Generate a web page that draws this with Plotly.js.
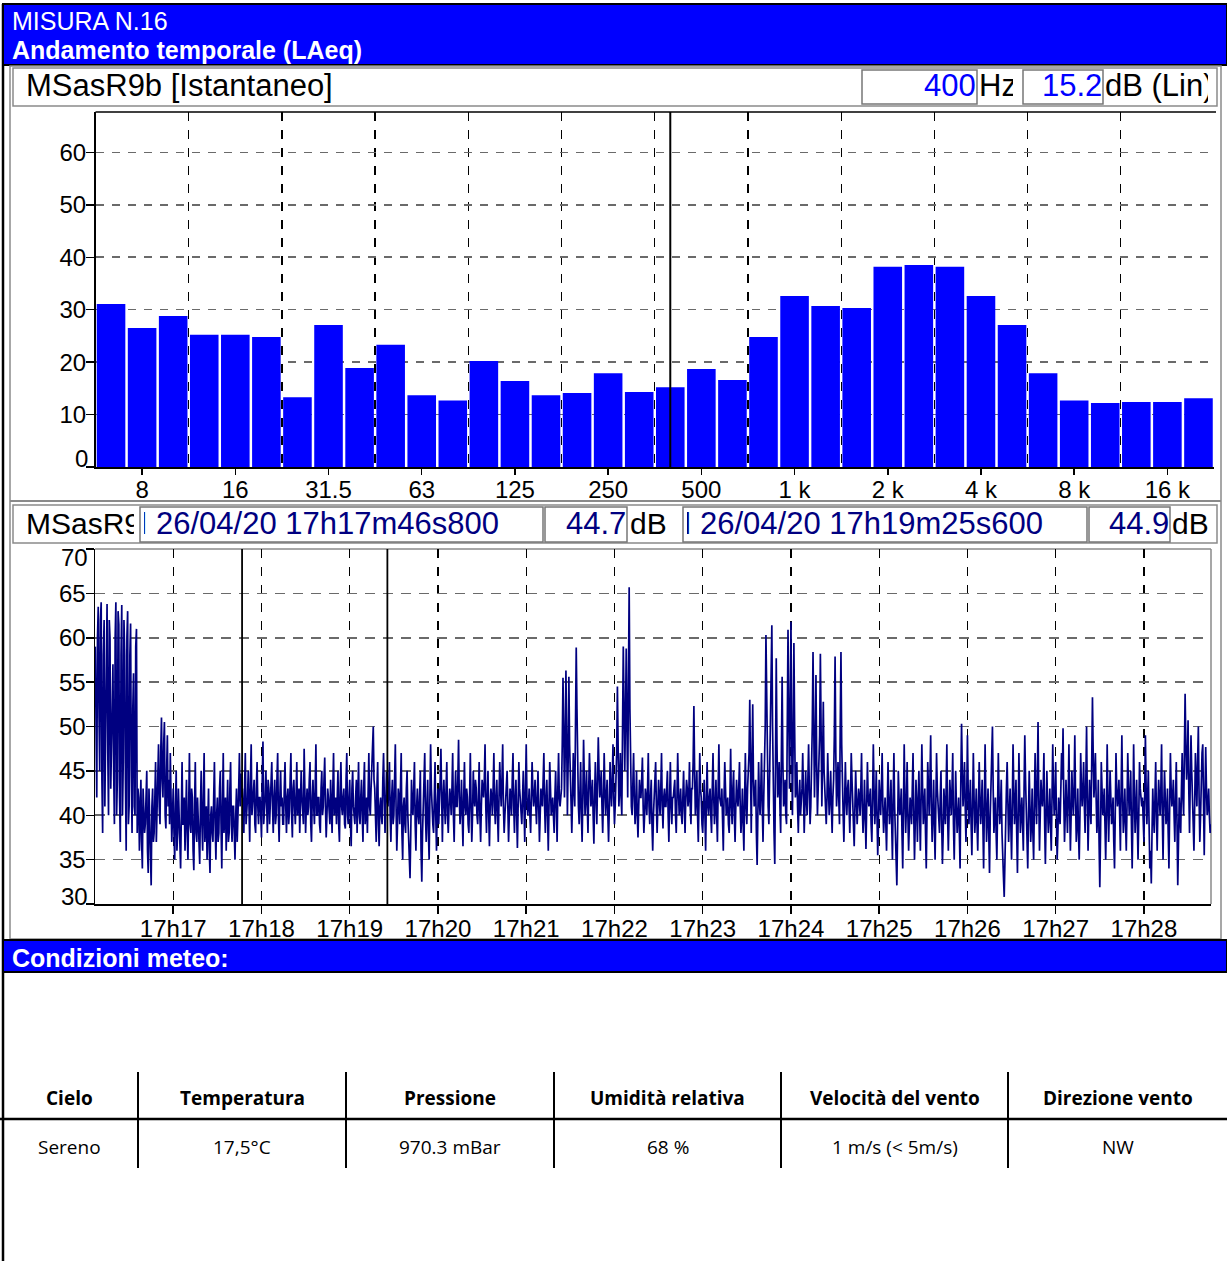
<!DOCTYPE html>
<html><head><meta charset="utf-8">
<script src="https://cdn.plot.ly/plotly-3.0.1.min.js"></script>
<style>html,body{margin:0;padding:0;background:#fff}#chart{width:1227px;height:1261px}</style>
</head><body><div id="chart"></div>
<script>
// ---------- Spectrum (1/3 octave, instantaneous) ----------
const bandLabels = ['6.3','8','10','12.5','16','20','25','31.5','40','50','63','80','100','125','160','200','250','315','400','500','630','800','1 k','1.25 k','1.6 k','2 k','2.5 k','3.15 k','4 k','5 k','6.3 k','8 k','10 k','12.5 k','16 k','20 k'];
const bandLevels = [31.1,26.5,28.8,25.2,25.2,24.8,13.3,27.1,18.9,23.3,13.7,12.7,20.2,16.4,13.7,14.1,17.9,14.3,15.2,18.7,16.6,24.8,32.6,30.7,30.3,38.2,38.5,38.2,32.6,27.1,17.9,12.7,12.2,12.4,12.4,13.1];
const spectrumTickLabels = ['8','16','31.5','63','125','250','500','1 k','2 k','4 k','8 k','16 k'];
const spectrumYTicks = [0,10,20,30,40,50,60];
const cursorBand = '400';
const cursorBandLevel = '15.2';

// ---------- Time history LAeq ----------
const historyStart = '2020-04-26T17:16:07Z';
const historyStepSeconds = 1;
// levels read on each whole second
const historyLevels = [
59,42,63.5,45,64,38,62,50,63.8,40,60,47,57,39,64,44,61.5,37,63.7,46,
58,36,63,41,61.6,38,56,40,61,43,36,44,34,41,39,45,33.5,40,32.1,43,
38,46,40,48,39,51,42,50.5,38.5,49,44,47,37,43,35,45,38,41,34,46,
39,36,44,35,47,38,42,33.8,46,37,40,34.5,45,36,47,39,35,43,33.5,41,
37,46,35,42,38,45,34,47,40,36,44,38,46,37,41,35,43,39,47,44.7,
43,38,47,40,45,37,48,41,44,38,46,39,42,37.5,48.3,40,45,38,43,41,
46,38,44,40,47,37,45,42,39,46,38,43,40.5,47,37.5,44,39,46,41,38,
45,40,47.5,38,43,41,46,37,44,39,48,40,42,38,45,41,46.5,37.5,43,40,
44,38,47,41,39,45,37,46,40,43,38.5,47,39,44,36.5,45,40,42,38,46,
39,44,37,46,41,38,47,40,45,50,43,37,46,36.5,42,39,47,38,44.9,41,
46,37,44,40,48,36,43,39,47,35,42,38,45,37,32.9,44,40,46,36,43,
39,45,32.5,41,47,37,44,35,48,40,38,46,36,43,41,47.5,37,44,39,46,
38,43,40,47,37,45,41,48.5,39,44,36.5,46,40,42,38,47,37,45,41,43,
39,46,37,44,42,48,38,45,36.5,43,40,47,39,44,37,46,41,48,38,42,
45,37,43,40,47,38,44,36.3,46,41,39,45,37,48,40,43,38,46,41,44,
39,45,37,43,41,47,38,44,36,46,40,42,38,45,37,47,41,43,55.5,42,
56.3,40,55.6,44,38,47,41,58.9,43,39,46,37,48.5,40,45,38,47,41,44,36.8,
46,39,48.8,42,45,38,47,40,44,37,46,41,48,39,43,54.5,41,47,40,59,
45,58.8,42,65.7,44,40,47,39,45,37.5,44,42,46.5,38,43,40,47,39,44,36,
42,46,38,44,40,47,38.5,43,41,45,37,46,39,42,44,38,47,40,43,39,
45,38,44,41,46,39,43,52.3,40,45,37,47,42,38,44,36,46,40,43,38,
47,39,44,37,48,41,43,36,46,40,42,38,47.5,39,45,37,44,41,46,38,
43,36,47,39,45,53,38,52.5,41,44,34.4,46,40,47,37,45,60.3,43,39,48,
61.4,40,34.5,57.7,42,46,38,55.6,41,44,39,60.9,43,61.8,40,59.4,42,46,38,44,
41,47,38,45,40,48,39,44,58.4,42,55.8,40,46,58.2,41,52.8,43,39,47,40,
45,38,44,57.9,41,46,39,58.4,42,37,46,40,44,38,47,41,36.5,45,39,43,
40,47,38,44,36.2,46,41,43,37,48,39,45,35.5,44,40,47,38,42,36,46,
39,44,35,47,37,32.1,45,40,43,34,48,38,46,36,42,39,47,35,44,37,
45,36,48,39,43,34,46,40,49,37,44,35,47,41,38,45,34.5,43,39,48,
36,44,40,47,35,45,38,42,34,50.3,41,46,37,49,39,44,35.5,47,38,43,
36,46,39,44,34,48,37,43,33.5,45,50,38,42,35,47,39,44,33,30.8,41,
46,37,43,35,48,39,44,33.5,47,38,42,36,49,40,34,45,37,43,35,47,
39,50.5,36,44,41,47,34.5,45,38,43,36,48,40,46,35,42,39,47,49.8,37,
44,38,48,36,45,40,49,37,43,35,47,41,46,38,50,36,44,39,53.3,42,
47,38,44,31.9,46,40,43,35,48,37,45,39,42,34,47,41,44,36,49,38,
43,36,47,40,45,34,48,38,44,35,46,41,42,37,49,39,45,34,32.3,43,
38,46,36,44,40,48,35,45,39,43,34,47,41,44,37,46,32.1,42,38,47,
40,53.7,44,50.7,38,49,42,36,47,41,50,37,45,48,35.5,47.7,40,43,38
];
// levels read half a second after each whole second
const historyLevelsHalf = [
48,60,52,62,44,58,41,61,47,62,43,55,45,60,40,63,42,58,40,62,
44,60,39,58,45,52,41,59,38,42,40,37,43,38,42,36,43,35,41,37,
42,37,45,41,47,44,48,40,45,41,39,42,40,38,41,36,43,37,40,39,
42,40,38,41,39,43,36,41,38,42,36,41,39,42,37,41,38,36,40,38,
42,39,40,37,43,39,41,38,42,40,37,43,39,41,38,40,37,43,41,42,
40,43,39,42,41,44,40,42,39,43,41,42,40,44,39,42,40,44,39,43,
41,42,39,44,40,42,41,39,43,41,42,39,44,40,43,41,42,40,43,41,
42,39,43,41,40,44,39,42,41,43,40,42,39,43,40,44,41,40,42,39,
41,43,40,42,44,39,43,41,42,39,44,40,42,39,43,41,39,44,42,40,
42,40,43,39,42,44,41,43,46,44,40,43,39,41,40,44,42,41,42,43,
40,42,39,44,41,39,42,43,38,41,39,43,40,36,38,41,43,39,41,40,
42,36,38,44,40,41,38,42,43,39,42,40,41,39,44,40,42,41,43,40,
41,42,43,40,42,41,44,42,41,40,42,41,43,39,42,41,40,42,44,40,
42,40,41,43,44,41,42,40,41,42,43,41,42,40,42,43,44,41,40,43,
41,40,42,44,41,42,40,41,43,40,42,41,43,42,41,40,42,43,42,41,
42,41,40,42,44,41,42,40,41,43,41,40,42,41,43,42,42,48,50,47,
49,46,48,41,42,43,50,52,41,42,40,42,44,42,41,43,44,42,40,42,
42,44,45,43,41,42,43,42,40,41,43,44,42,41,47,46,43,42,50,52,
51,50,55,52,41,43,42,41,40,41,42,44,41,40,42,43,41,42,39,40,
43,41,41,42,43,41,42,41,43,40,42,41,42,43,40,42,43,41,40,42,
41,42,43,42,41,43,46,45,42,40,42,43,39,41,40,42,41,42,40,43,
42,41,40,43,42,41,39,42,43,41,39,42,41,43,40,41,42,43,41,40,
39,42,41,43,47,45,46,44,42,38,40,42,43,41,42,50,52,41,44,53,
50,38,46,48,43,41,47,46,42,40,50,52,51,49,48,50,43,41,42,40,
43,42,41,42,44,43,41,50,48,47,46,43,49,47,46,45,41,42,43,42,
41,42,49,47,43,42,50,48,40,41,42,43,41,42,44,39,41,42,41,42,
43,41,40,40,41,42,42,39,42,43,41,40,39,42,43,41,40,39,41,42,
41,39,42,41,35,38,42,41,38,41,42,41,40,39,41,43,40,39,41,42,
40,42,43,41,38,40,43,44,41,40,39,41,43,39,42,39,38,41,43,40,
40,42,43,39,40,41,40,38,44,45,43,41,42,43,41,39,41,42,40,39,
41,42,41,39,41,42,40,38,40,46,43,40,38,41,42,41,38,33,36,43,
41,40,39,41,43,41,38,40,42,40,39,43,44,37,40,41,39,38,41,42,
44,42,40,42,43,39,40,41,40,39,42,43,42,40,38,40,43,44,42,40,
41,42,41,40,42,43,42,39,38,40,43,43,41,44,42,40,41,46,47,44,
42,40,37,38,43,41,39,40,42,41,42,40,37,40,43,42,40,43,42,40,
39,41,43,42,39,40,42,41,39,40,43,41,39,42,43,42,39,36,38,40,
42,40,41,42,43,40,41,42,40,38,41,43,42,40,42,39,37,40,43,42,
47,48,46,43,44,45,38,41,44,46,42,40,47,41,42,43,41,40,39
];
const historyRange = ['2020-04-26 17:16:06.8','2020-04-26 17:28:45.6'];
const historyYTicks = [30,35,40,45,50,55,60,65,70];
const cursorTimes = ['2020-04-26 17:17:46.8','2020-04-26 17:19:25.6'];
const cursorLabels = ['M 26/04/20 17h17m46s800','M 26/04/20 17h19m25s600'];
const cursorValues = ['44.7','44.9'];

// ---------- Meteo table ----------
const meteoHeaders = ['Cielo','Temperatura','Pressione','Umidità relativa','Velocità del vento','Direzione vento'];
const meteoValues = ['Sereno','17,5°C','970.3 mBar','68 %','1 m/s (< 5m/s)','NW'];

// ================== build ==================
const W = 1227, H = 1261;
const px = x => x / W;
const py = y => 1 - y / H;

const bandIdx = bandLabels.map((_, i) => i);
const tickIdx = spectrumTickLabels.map(l => bandLabels.indexOf(l));
const boundaries = bandIdx.slice(0, -1).filter(i => (i + 1) % 3 === 0).map(i => i + 0.5);
const cursorIdx = bandLabels.indexOf(cursorBand);

const t0 = Date.parse(historyStart);
const toStr = ms => new Date(ms).toISOString().replace('T', ' ').replace('Z', '');
const stepMs = historyStepSeconds * 1000;
const historyTimes = [], historyValues = [];
historyLevels.forEach((v, i) => {
  historyTimes.push(toStr(t0 + i * stepMs)); historyValues.push(v);
  if (i < historyLevelsHalf.length) { historyTimes.push(toStr(t0 + i * stepMs + stepMs / 2)); historyValues.push(historyLevelsHalf[i]); }
});

const shapes = [];
const annotations = [];
function rect(x0, y0, x1, y1, fill, lc, lw, layer) {
  shapes.push({type:'rect', xref:'paper', yref:'paper', x0:px(x0), x1:px(x1), y0:py(y0), y1:py(y1),
    fillcolor: fill || 'rgba(0,0,0,0)', line:{color: lc || 'rgba(0,0,0,0)', width: lw || 0}, layer: layer || 'below'});
}
function line(x0, y0, x1, y1, c, w, layer) {
  shapes.push({type:'line', xref:'paper', yref:'paper', x0:px(x0), x1:px(x1), y0:py(y0), y1:py(y1),
    line:{color:c, width:w}, layer: layer || 'below'});
}
function text(x, y, t, o) {
  o = o || {};
  const a = {xref:'paper', yref:'paper', x:px(x), y:py(y), text:t, showarrow:false,
    xanchor:o.xanchor || 'left', yanchor:'middle', borderpad:0, borderwidth:0,
    font:{family:o.family || 'Liberation Sans, Arial, sans-serif', size:o.size || 30, color:o.color || '#000', weight:o.weight || 'normal'}};
  if (o.width) { a.width = o.width; a.align = o.align || 'left'; }
  annotations.push(a);
}

// page frame
line(3, 4, 3, 1261, '#000', 2.5);
// top blue band
rect(3, 4, 1227, 65, '#0000FF', '#000', 2);
text(12, 21, 'MISURA N.16', {size:25, color:'#fff'});
text(12, 50, 'Andamento temporale (LAeq)', {size:25, color:'#fff', weight:'bold'});
// main panel frame
rect(10, 66, 1221, 939, '#fff', '#8a8a8a', 1.5);
// header row 1
rect(13, 68, 1217, 106, '#fff', '#8a8a8a', 1.5);
rect(862, 70, 977, 104, '#fff', '#777', 1.5);
rect(1023, 70, 1103, 104, '#fff', '#777', 1.5);
text(26, 86, 'MSasR9b [Istantaneo]', {size:31});
text(976, 86, cursorBand, {xanchor:'right', color:'#0000FF', size:31});
text(979, 86, 'Hz', {width:34, align:'left', size:31});
text(1102, 86, cursorBandLevel, {xanchor:'right', color:'#0000FF', size:31});
text(1105, 86, 'dB (Lin)', {width:103, align:'left', size:31});
// divider between panels
line(10, 501, 1221, 501, '#8a8a8a', 2);
// header row 2
rect(13, 505, 1217, 543, '#fff', '#8a8a8a', 1.5);
rect(140, 507, 543, 542, '#fff', '#777', 1.5);
rect(545, 507, 627, 542, '#fff', '#777', 1.5);
rect(683, 507, 1087, 542, '#fff', '#777', 1.5);
rect(1089, 507, 1170, 542, '#fff', '#777', 1.5);
text(26, 523, 'MSasR9b', {width:108, align:'left', size:30});
text(499, 523, cursorLabels[0], {xanchor:'right', width:355, align:'right', color:'#000080', size:31});
text(626, 523, cursorValues[0], {xanchor:'right', color:'#000080', size:31});
text(630, 523, 'dB', {size:30});
text(1043, 523, cursorLabels[1], {xanchor:'right', width:356, align:'right', color:'#000080', size:31});
text(1169, 523, cursorValues[1], {xanchor:'right', color:'#000080', size:31});
text(1172, 523, 'dB', {width:38, align:'left', size:30});

// plot frames
line(95.5, 112, 1216, 112, '#000', 1.5);
line(95, 549, 1211, 549, '#8a8a8a', 1.5);
line(1211, 549, 1211, 904, '#8a8a8a', 1.5);

// edge tick labels, nudged inside the plot height like the reference
text(88, 458, String(spectrumYTicks[0]), {xanchor:'right', size:24});
text(88, 896, String(historyYTicks[0]), {xanchor:'right', size:24});
text(88, 557, String(historyYTicks[historyYTicks.length - 1]), {xanchor:'right', size:24});

// spectrum cursor
shapes.push({type:'line', xref:'x', yref:'y domain', x0:cursorIdx, x1:cursorIdx, y0:0, y1:1,
  line:{color:'#000', width:2}, layer:'above'});
// history cursors
cursorTimes.forEach(t => shapes.push({type:'line', xref:'x2', yref:'y2 domain', x0:t, x1:t, y0:0, y1:1,
  line:{color:'#000', width:1.8}, layer:'above'}));

// meteo band
rect(3, 940, 1227, 972, '#0000FF', '#000', 2);
text(12, 958, 'Condizioni meteo:', {size:25, color:'#fff', weight:'bold'});

// table
const colEdges = [0, 138, 346, 554, 781, 1008, 1227];
line(0, 1119, 1227, 1119, '#000', 2.5);
colEdges.slice(1, -1).forEach(x => line(x, 1072, x, 1168, '#000', 2));
meteoHeaders.forEach((h, i) => text((colEdges[i] + colEdges[i+1]) / 2, 1098, h,
  {xanchor:'center', size:19, family:'Open Sans, sans-serif', weight:'bold'}));
meteoValues.forEach((v, i) => text((colEdges[i] + colEdges[i+1]) / 2, 1147, v,
  {xanchor:'center', size:19, family:'Open Sans, sans-serif'}));

const tickFont = {family:'Liberation Sans, Arial, sans-serif', size:24, color:'#000'};

const data = [
  {type:'bar', x:bandIdx, y:bandLevels, xaxis:'x', yaxis:'y', marker:{color:'#0000FF', line:{width:0}},
   hoverinfo:'skip', showlegend:false},
  {type:'scatter', mode:'lines', x:historyTimes, y:historyValues, xaxis:'x2', yaxis:'y2',
   line:{color:'#000080', width:1.7}, hoverinfo:'skip', showlegend:false}
];

const layout = {
  width:W, height:H, margin:{l:0, r:0, t:0, b:0}, paper_bgcolor:'#fff', plot_bgcolor:'rgba(0,0,0,0)',
  showlegend:false, bargap:0.08,
  xaxis:{domain:[px(95.5), px(1214)], anchor:'y', range:[-0.5, bandLabels.length - 0.5],
    tickmode:'array', tickvals:tickIdx, ticktext:spectrumTickLabels, ticks:'outside', ticklen:6, tickwidth:1.5,
    tickcolor:'#000', tickfont:tickFont, ticklabelstandoff:-5, showgrid:false, zeroline:false, showline:true, linecolor:'#000', linewidth:1.5,
    minor:{tickmode:'array', tickvals:boundaries, showgrid:true, gridcolor:'#000', gridwidth:1.3, griddash:'9px,9px', ticks:''}},
  yaxis:{domain:[py(467), py(112)], anchor:'x', range:[0, 67.7], tickmode:'array', tickvals:spectrumYTicks,
    ticktext:spectrumYTicks.map((v, i) => i === 0 ? '' : String(v)),
    ticks:'outside', ticklen:8, tickwidth:1.5, tickcolor:'#000', tickfont:tickFont, ticklabelstandoff:-5,
    showgrid:true, gridcolor:'#6a6a6a', gridwidth:1.6, griddash:'8px,8px', zeroline:false,
    showline:true, linecolor:'#000', linewidth:1.5},
  xaxis2:{domain:[px(95), px(1211)], anchor:'y2', type:'date', range:historyRange,
    tickmode:'linear', tick0:'2020-04-26 17:17:00', dtick:60000, tickformat:'%Hh%M',
    ticks:'outside', ticklen:8, tickwidth:1.5, tickcolor:'#000', tickfont:tickFont, ticklabelstandoff:-5,
    showgrid:true, gridcolor:'#000', gridwidth:1.3, griddash:'9px,9px', zeroline:false,
    showline:true, linecolor:'#000', linewidth:1.5},
  yaxis2:{domain:[py(904), py(549)], anchor:'x2', range:[30, 70], tickmode:'array', tickvals:historyYTicks,
    ticktext:historyYTicks.map((v, i) => (i === 0 || i === historyYTicks.length - 1) ? '' : String(v)),
    ticks:'outside', ticklen:8, tickwidth:1.5, tickcolor:'#000', tickfont:tickFont, ticklabelstandoff:-5,
    showgrid:true, gridcolor:'#6a6a6a', gridwidth:1.6, griddash:'10px,8px', zeroline:false,
    showline:true, linecolor:'#000', linewidth:1.5},
  shapes, annotations
};

Plotly.newPlot('chart', data, layout, {staticPlot:true, displayModeBar:false});
</script></body></html>
